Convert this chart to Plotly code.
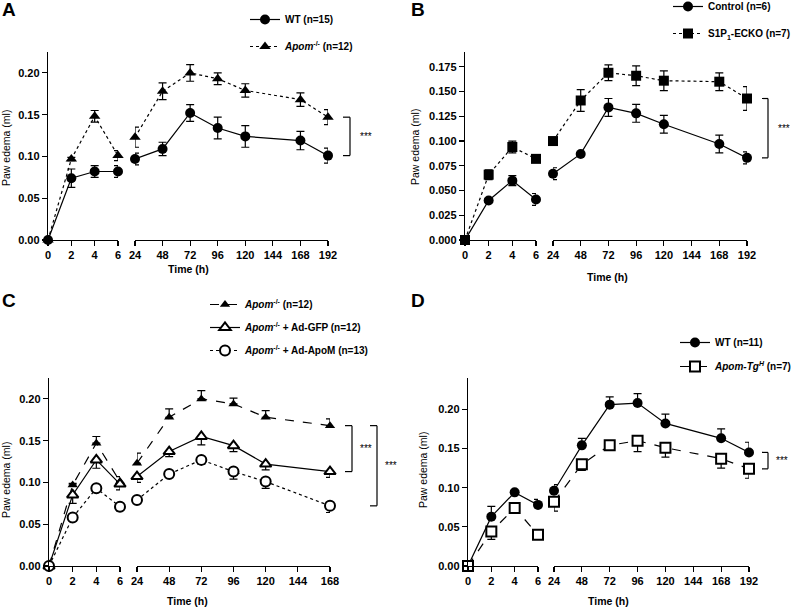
import plotly.graph_objects as go

W, H = 800, 609
FONT = "Arial, Liberation Sans, sans-serif"

# ---------------- data ----------------
A_hours = [0, 2, 4, 6, 24, 48, 72, 96, 120, 168, 192]
A_wt = [0, 0.074, 0.082, 0.082, 0.097, 0.109, 0.152, 0.134, 0.124, 0.119, 0.101]
A_wt_err = [0, 0.011, 0.007, 0.007, 0.007, 0.008, 0.010, 0.013, 0.013, 0.011, 0.009]
A_ko = [0, 0.097, 0.148, 0.101, 0.123, 0.178, 0.200, 0.193, 0.179, 0.168, 0.147]
A_ko_err = [0, 0.002, 0.007, 0.006, 0.012, 0.010, 0.010, 0.007, 0.008, 0.008, 0.009]

B_hours = [0, 2, 4, 6, 24, 48, 72, 96, 120, 168, 192]
B_ctrl = [0, 0.040, 0.060, 0.041, 0.067, 0.087, 0.134, 0.128, 0.117, 0.097, 0.083]
B_ctrl_err = [0, 0.002, 0.005, 0.006, 0.006, 0.001, 0.009, 0.009, 0.009, 0.009, 0.006]
B_ecko = [0, 0.066, 0.094, 0.082, 0.100, 0.141, 0.169, 0.166, 0.161, 0.160, 0.143]
B_ecko_err = [0, 0.005, 0.006, 0.002, 0.002, 0.011, 0.008, 0.010, 0.010, 0.009, 0.012]

C_hours = [0, 2, 4, 6, 24, 48, 72, 96, 120, 168]
C_ko = [0, 0.097, 0.147, 0.101, 0.123, 0.178, 0.200, 0.194, 0.178, 0.168]
C_ko_err = [0, 0.002, 0.008, 0.006, 0.012, 0.010, 0.010, 0.007, 0.008, 0.008]
C_gfp = [0, 0.085, 0.127, 0.098, 0.107, 0.137, 0.155, 0.144, 0.122, 0.113]
C_gfp_err = [0, 0.010, 0.010, 0.007, 0.007, 0.006, 0.010, 0.007, 0.007, 0.007]
C_apom = [0, 0.058, 0.093, 0.071, 0.079, 0.110, 0.127, 0.113, 0.101, 0.072]
C_apom_err = [0, 0.004, 0.003, 0.005, 0.004, 0.004, 0.005, 0.009, 0.008, 0.008]

D_hours = [0, 2, 4, 6, 24, 48, 72, 96, 120, 168, 192]
D_wt = [0, 0.063, 0.094, 0.078, 0.096, 0.154, 0.206, 0.208, 0.182, 0.163, 0.145]
D_wt_err = [0, 0.013, 0.002, 0.007, 0.008, 0.009, 0.010, 0.012, 0.012, 0.012, 0.013]
D_tg = [0, 0.044, 0.074, 0.040, 0.082, 0.130, 0.154, 0.160, 0.151, 0.137, 0.124]
D_tg_err = [0, 0.010, 0.003, 0.003, 0.012, 0.008, 0.003, 0.014, 0.012, 0.012, 0.012]

early_ticks = [0, 2, 4, 6]
late_ticks_192 = [24, 48, 72, 96, 120, 144, 168, 192]
late_ticks_168 = [24, 48, 72, 96, 120, 144, 168]

# ---------------- helpers ----------------
def px(x):
    return x / W


def py(y):
    return 1 - y / H


fig = go.Figure()
layout = dict(
    width=W, height=H, margin=dict(l=0, r=0, t=0, b=0, autoexpand=False),
    paper_bgcolor="white", plot_bgcolor="white", showlegend=True,
    font=dict(family=FONT, color="black"),
)
annotations = []
shapes = []

LW = 1.2
tickfont = dict(family=FONT, size=11, color="black", weight="bold")


def setup_panel(idx, seg1, seg2, ydom, yrange, ydtick, yfmt, late_range, late_ticks):
    xa1 = f"xaxis{'' if idx == 1 else 2 * idx - 1}"
    xa2 = f"xaxis{2 * idx}"
    ya = f"yaxis{'' if idx == 1 else idx}"
    xname1 = f"x{'' if idx == 1 else 2 * idx - 1}"
    xname2 = f"x{2 * idx}"
    yname = f"y{'' if idx == 1 else idx}"
    common_x = dict(showline=True, linecolor="black", linewidth=LW, ticks="outside",
                    ticklen=5, tickwidth=LW, tickcolor="black", showgrid=False,
                    zeroline=False, tickfont=tickfont, anchor=yname, fixedrange=True)
    layout[xa1] = dict(common_x, domain=[px(seg1[0]), px(seg1[1])], range=[0, 6],
                       tickvals=early_ticks)
    layout[xa2] = dict(common_x, domain=[px(seg2[0]), px(seg2[1])], range=late_range,
                       tickvals=late_ticks)
    layout[ya] = dict(domain=[py(ydom[1]), py(ydom[0])], range=yrange, anchor=xname1,
                      showline=True, linecolor="black", linewidth=LW, ticks="outside",
                      ticklen=5, tickwidth=LW, tickcolor="black", showgrid=False,
                      zeroline=False, tickfont=tickfont, dtick=ydtick, tick0=0,
                      tickformat=yfmt, fixedrange=True)
    return xname1, xname2, yname


def add_series(hours, vals, err, xs, ya, name, symbol, dash, legend, group,
               filled=True, err_dir="both", size=10):
    for seg, xa in ((0, xs[0]), (1, xs[1])):
        idx = [i for i, h in enumerate(hours) if (h <= 6) == (seg == 0)]
        hx = [hours[i] for i in idx]
        vy = [vals[i] for i in idx]
        e = [err[i] for i in idx]
        zeros = [0] * len(e)
        if err_dir == "both":
            ed = dict(type="data", array=e, symmetric=True)
        elif err_dir == "up":
            ed = dict(type="data", array=e, arrayminus=zeros, symmetric=False)
        else:
            ed = dict(type="data", array=zeros, arrayminus=e, symmetric=False)
        ed.update(color="black", thickness=LW, width=4)
        fig.add_trace(go.Scatter(
            x=hx, y=vy, xaxis=xa, yaxis=ya, mode="lines+markers", name=name,
            line=dict(color="black", width=LW, dash=dash),
            marker=dict(symbol=symbol, size=size,
                        color="black" if filled else "white",
                        line=dict(color="black", width=0 if filled else 2)),
            error_y=ed, cliponaxis=False, legend=legend, legendgroup=group,
            showlegend=(seg == 0), hoverinfo="skip",
        ))


def bracket(yref, x0, x1, ytop, ybot, text_x):
    for (a, b, c, d) in ((x1, ytop, x1, ybot), (x0, ytop, x1, ytop), (x0, ybot, x1, ybot)):
        shapes.append(dict(type="line", xref="paper", yref=yref, x0=px(a), y0=b,
                           x1=px(c), y1=d, line=dict(color="black", width=LW)))
    annotations.append(dict(xref="paper", yref=yref, x=px(text_x), y=(ytop + ybot) / 2,
                            text="***", showarrow=False, xanchor="left", yanchor="middle",
                            font=dict(size=10, color="#000000", family=FONT)))


def text(x, y, s, size, bold=False, angle=0, xanchor="center"):
    annotations.append(dict(xref="paper", yref="paper", x=px(x), y=py(y), text=s,
                            showarrow=False, xanchor=xanchor, yanchor="middle",
                            textangle=angle,
                            font=dict(size=size, color="black", family=FONT,
                                      weight="bold" if bold else "normal")))


def legend_box(x, y, gap):
    return dict(x=px(x), y=py(y), xanchor="left", yanchor="top", bgcolor="rgba(0,0,0,0)",
                font=dict(family=FONT, size=10, color="black", weight="bold"),
                tracegroupgap=gap, traceorder="grouped", itemwidth=30)


# ---------------- panel A ----------------
xa, xb, yA = setup_panel(1, (48, 118), (135, 328), (52, 240), [0, 0.225], 0.05, ".2f",
                         [24, 192], late_ticks_192)
add_series(A_hours, A_wt, A_wt_err, (xa, xb), yA, "WT (n=15)", "circle", "solid",
           "legend", "a1")
add_series(A_hours, A_ko, A_ko_err, (xa, xb), yA, "<i>Apom</i><sup>-/-</sup> (n=12)",
           "triangle-up", "dot", "legend", "a2")
layout["legend"] = legend_box(245, 5, 8)
bracket(yA, 343, 350, A_ko[-1], A_wt[-1], 358)

# ---------------- panel B ----------------
xc, xd, yB = setup_panel(2, (465, 536), (553, 747), (52, 240), [0, 0.19], 0.025, ".3f",
                         [24, 192], late_ticks_192)
add_series(B_hours, B_ctrl, B_ctrl_err, (xc, xd), yB, "Control (n=6)", "circle", "solid",
           "legend2", "b1")
add_series(B_hours, B_ecko, B_ecko_err, (xc, xd), yB, "S1P<sub>1</sub>-ECKO (n=7)",
           "square", "dot", "legend2", "b2")
layout["legend2"] = legend_box(668, -8, 8)
bracket(yB, 762, 768, B_ecko[-1], B_ctrl[-1], 776)

# ---------------- panel C ----------------
xe, xf, yC = setup_panel(3, (49, 120), (137, 330), (378, 566), [0, 0.225], 0.05, ".2f",
                         [24, 168], late_ticks_168)
add_series(C_hours, C_ko, C_ko_err, (xe, xf), yC, "<i>Apom</i><sup>-/-</sup> (n=12)",
           "triangle-up", "dash", "legend3", "c1", err_dir="up", size=9)
add_series(C_hours, C_gfp, C_gfp_err, (xe, xf), yC,
           "<i>Apom</i><sup>-/-</sup> + Ad-GFP (n=12)", "triangle-up", "solid",
           "legend3", "c2", filled=False, err_dir="down")
add_series(C_hours, C_apom, C_apom_err, (xe, xf), yC,
           "<i>Apom</i><sup>-/-</sup> + Ad-ApoM (n=13)", "circle", "dot",
           "legend3", "c3", filled=False, err_dir="down")
layout["legend3"] = legend_box(205, 290, 4)
bracket(yC, 345, 352, C_ko[-1], C_gfp[-1], 358)
bracket(yC, 370, 377, C_ko[-1], C_apom[-1], 383)

# ---------------- panel D ----------------
xg, xh, yD = setup_panel(4, (468, 538), (554, 749), (378, 566), [0, 0.24], 0.05, ".2f",
                         [24, 192], late_ticks_192)
add_series(D_hours, D_wt, D_wt_err, (xg, xh), yD, "WT (n=11)", "circle", "solid",
           "legend4", "d1", err_dir="up")
add_series(D_hours, D_tg, D_tg_err, (xg, xh), yD, "<i>Apom-Tg<sup>H</sup></i> (n=7)",
           "square", "dash", "legend4", "d2", filled=False, err_dir="down")
layout["legend4"] = legend_box(675, 328, 5)
bracket(yD, 762, 768, D_wt[-1], D_tg[-1], 774)

# ---------------- labels ----------------
for (x, y, s) in ((9, 10, "A"), (418, 10, "B"), (9, 300, "C"), (418, 300, "D")):
    text(x, y, s, 19, bold=True)
for (x, y) in ((6, 148), (415, 147), (6, 480), (423, 470)):
    text(x, y, "Paw edema (ml)", 10.5, angle=-90)
for (x, y) in ((188, 269), (607, 277), (187, 601), (608, 601)):
    text(x, y, "Time (h)", 10.5, bold=True)

layout["annotations"] = annotations
layout["shapes"] = shapes
fig.update_layout(**layout)
fig.write_html("out.html", config={"displayModeBar": False, "staticPlot": True},
               post_script="document.body.style.margin='0';document.body.style.padding='0';")
